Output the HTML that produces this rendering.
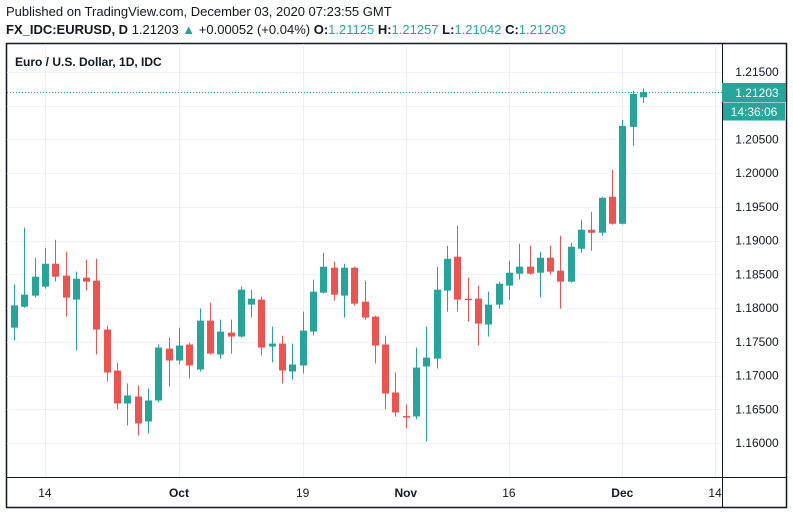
<!DOCTYPE html>
<html><head><meta charset="utf-8"><style>
body{margin:0;background:#fff;width:793px;height:513px;overflow:hidden;font-family:"Liberation Sans",sans-serif;}
svg{position:absolute;left:0;top:0}
</style></head><body>
<svg id="chart" width="793" height="513">
<text x="6" y="16" font-size="13" fill="#131722">Published on TradingView.com, December 03, 2020 07:23:55 GMT</text>
<text x="6" y="34" font-size="13" fill="#131722"><tspan font-weight="bold">FX_IDC:EURUSD, D</tspan> 1.21203 <tspan fill="#26a69a">▲</tspan> +0.00052 (+0.04%) <tspan font-weight="bold">O:</tspan><tspan fill="#26a69a">1.21125</tspan> <tspan font-weight="bold">H:</tspan><tspan fill="#26a69a">1.21257</tspan> <tspan font-weight="bold">L:</tspan><tspan fill="#26a69a">1.21042</tspan> <tspan font-weight="bold">C:</tspan><tspan fill="#26a69a">1.21203</tspan></text>
<rect x="6.5" y="43.5" width="780" height="464" fill="none" stroke="#131722" stroke-width="1.5"/>
<g id="grid"></g>
<g id="candles"></g>
<line x1="7" y1="477.5" x2="786" y2="477.5" stroke="#131722"/>
<line x1="722.5" y1="44" x2="722.5" y2="507" stroke="#131722"/>
<text x="15" y="66" font-size="12" font-weight="bold" fill="#131722">Euro / U.S. Dollar, 1D, IDC</text>
<g id="axes"></g>
</svg>
<script>
const opens=[1.1771,1.1802,1.18185,1.18318,1.18658,1.18481,1.18126,1.18451,1.18407,1.17682,1.17075,1.16586,1.1669,1.1632,1.16631,1.174,1.17223,1.1746,1.1709,1.17815,1.17312,1.17637,1.17578,1.18052,1.18126,1.1743,1.17474,1.1706,1.17149,1.17652,1.18229,1.18599,1.18185,1.18599,1.18096,1.17874,1.1746,1.16749,1.164,1.16394,1.17134,1.17252,1.18259,1.18762,1.1814,1.1814,1.17756,1.18052,1.18333,1.1851,1.18614,1.18525,1.18747,1.18555,1.18392,1.1888,1.19162,1.19117,1.1965,1.1925,1.20686,1.21125];
const highs=[1.1835,1.19191,1.18747,1.18895,1.19014,1.18836,1.1854,1.18718,1.18732,1.17741,1.17193,1.16882,1.16853,1.16808,1.1746,1.17563,1.17711,1.17489,1.17992,1.18081,1.1783,1.1783,1.18318,1.18274,1.1817,1.17726,1.17593,1.17474,1.17948,1.18422,1.18821,1.18688,1.18658,1.18614,1.18407,1.17889,1.17593,1.17045,1.16572,1.17415,1.17726,1.18614,1.18925,1.19221,1.18451,1.18333,1.18244,1.18392,1.18703,1.18954,1.18925,1.18836,1.18925,1.19073,1.18969,1.1931,1.19428,1.1965,1.2005,1.2079,1.21219,1.21257];
const lows=[1.1752,1.18007,1.18155,1.18288,1.18392,1.17874,1.17371,1.18259,1.17312,1.16912,1.16498,1.16261,1.16113,1.16142,1.166,1.16838,1.17164,1.16956,1.1706,1.17312,1.17252,1.17326,1.17563,1.17859,1.17297,1.17193,1.16882,1.16942,1.1703,1.17593,1.18214,1.18111,1.17859,1.18037,1.1783,1.17178,1.16498,1.16394,1.16216,1.1635,1.16024,1.17104,1.17948,1.17948,1.178,1.17445,1.17578,1.17992,1.18126,1.18422,1.18496,1.18155,1.18496,1.17992,1.18377,1.18821,1.18851,1.19073,1.19236,1.1924,1.20405,1.21042];
const closes=[1.1804,1.182,1.18466,1.18658,1.18466,1.18155,1.18436,1.18392,1.17682,1.17045,1.16586,1.16705,1.1629,1.16631,1.17415,1.17223,1.17445,1.17149,1.17815,1.17326,1.17652,1.17578,1.18274,1.1814,1.17415,1.17474,1.17075,1.17164,1.17667,1.18244,1.18614,1.182,1.18599,1.18066,1.17859,1.17445,1.16734,1.16453,1.16394,1.17119,1.17267,1.18274,1.18732,1.18126,1.18135,1.1777,1.18052,1.18362,1.18525,1.18614,1.1851,1.18747,1.1854,1.18392,1.1891,1.19162,1.19117,1.19635,1.1925,1.20701,1.21174,1.21203];
const priceTicks=[1.16,1.165,1.17,1.175,1.18,1.185,1.19,1.195,1.2,1.205,1.21,1.215];
const timeLabels=["14","Oct","19","Nov","16","Dec","14"];
const timeIdx=[3,16,28,38,48,59,68];
const lastPrice=1.21203;

const NS="http://www.w3.org/2000/svg";
function y(p){return 72+(1.215-p)/0.005*33.73;}
function x(i){return 14+i*10.31;}
function mk(tag,attrs,parent){const e=document.createElementNS(NS,tag);for(const k in attrs)e.setAttribute(k,attrs[k]);parent.appendChild(e);return e;}
const grid=document.getElementById('grid'),cg=document.getElementById('candles'),ax=document.getElementById('axes');
const ly=Math.round(y(lastPrice))+0.5;
priceTicks.forEach(p=>{
  const l=mk('line',{x1:7,x2:722,y1:Math.round(y(p))+0.5,y2:Math.round(y(p))+0.5,stroke:'#f0f3fa'},grid);
  
  
  if(y(p)>ly-5 && y(p)<ly+30) return;
  const t=mk('text',{x:757,y:y(p)+4,'font-size':12,'text-anchor':'middle',fill:'#131722'},ax);
  t.textContent=p.toFixed(5);
  
  
});
timeIdx.forEach((idx,k)=>{
  const l=mk('line',{x1:Math.round(x(idx))+0.5,x2:Math.round(x(idx))+0.5,y1:44,y2:477,stroke:'#eceef3'},grid);
  
  
  const t=mk('text',{x:x(idx),y:497,'font-size':12,'text-anchor':'middle',fill:'#131722','font-weight':/[A-Z]/.test(timeLabels[k])?'bold':'normal'},ax);
  t.textContent=timeLabels[k];
  
  
});
opens.forEach((o,i)=>{
  const c=closes[i],up=c>=o,col=up?'#26a69a':'#ef5350',cx=Math.round(x(i));
  const g=mk('g',{},cg);
  
  
  mk('line',{x1:cx+0.5,x2:cx+0.5,y1:y(highs[i]),y2:y(lows[i]),stroke:col},g);
  const top=y(Math.max(o,c)),bot=y(Math.min(o,c));
  mk('rect',{x:cx-3,y:top,width:7,height:Math.max(bot-top,1.5),fill:col},g);
});
const dl=mk('line',{x1:7,x2:722,y1:ly,y2:ly,stroke:'#26a69a','stroke-dasharray':'1,2'},ax);


const b1=mk('rect',{x:722,y:ly-9.5,width:64,height:19,fill:'#26a69a'},ax);


const t1=mk('text',{x:757,y:ly+4.5,'font-size':12,'text-anchor':'middle',fill:'#fff'},ax);
t1.textContent=lastPrice.toFixed(5);


const b2=mk('rect',{x:723,y:ly+10,width:62,height:18,fill:'#26a69a'},ax);


const t2=mk('text',{x:754,y:ly+23.5,'font-size':12,'text-anchor':'middle',fill:'#fff'},ax);
t2.textContent='14:36:06';


</script>
</body></html>
